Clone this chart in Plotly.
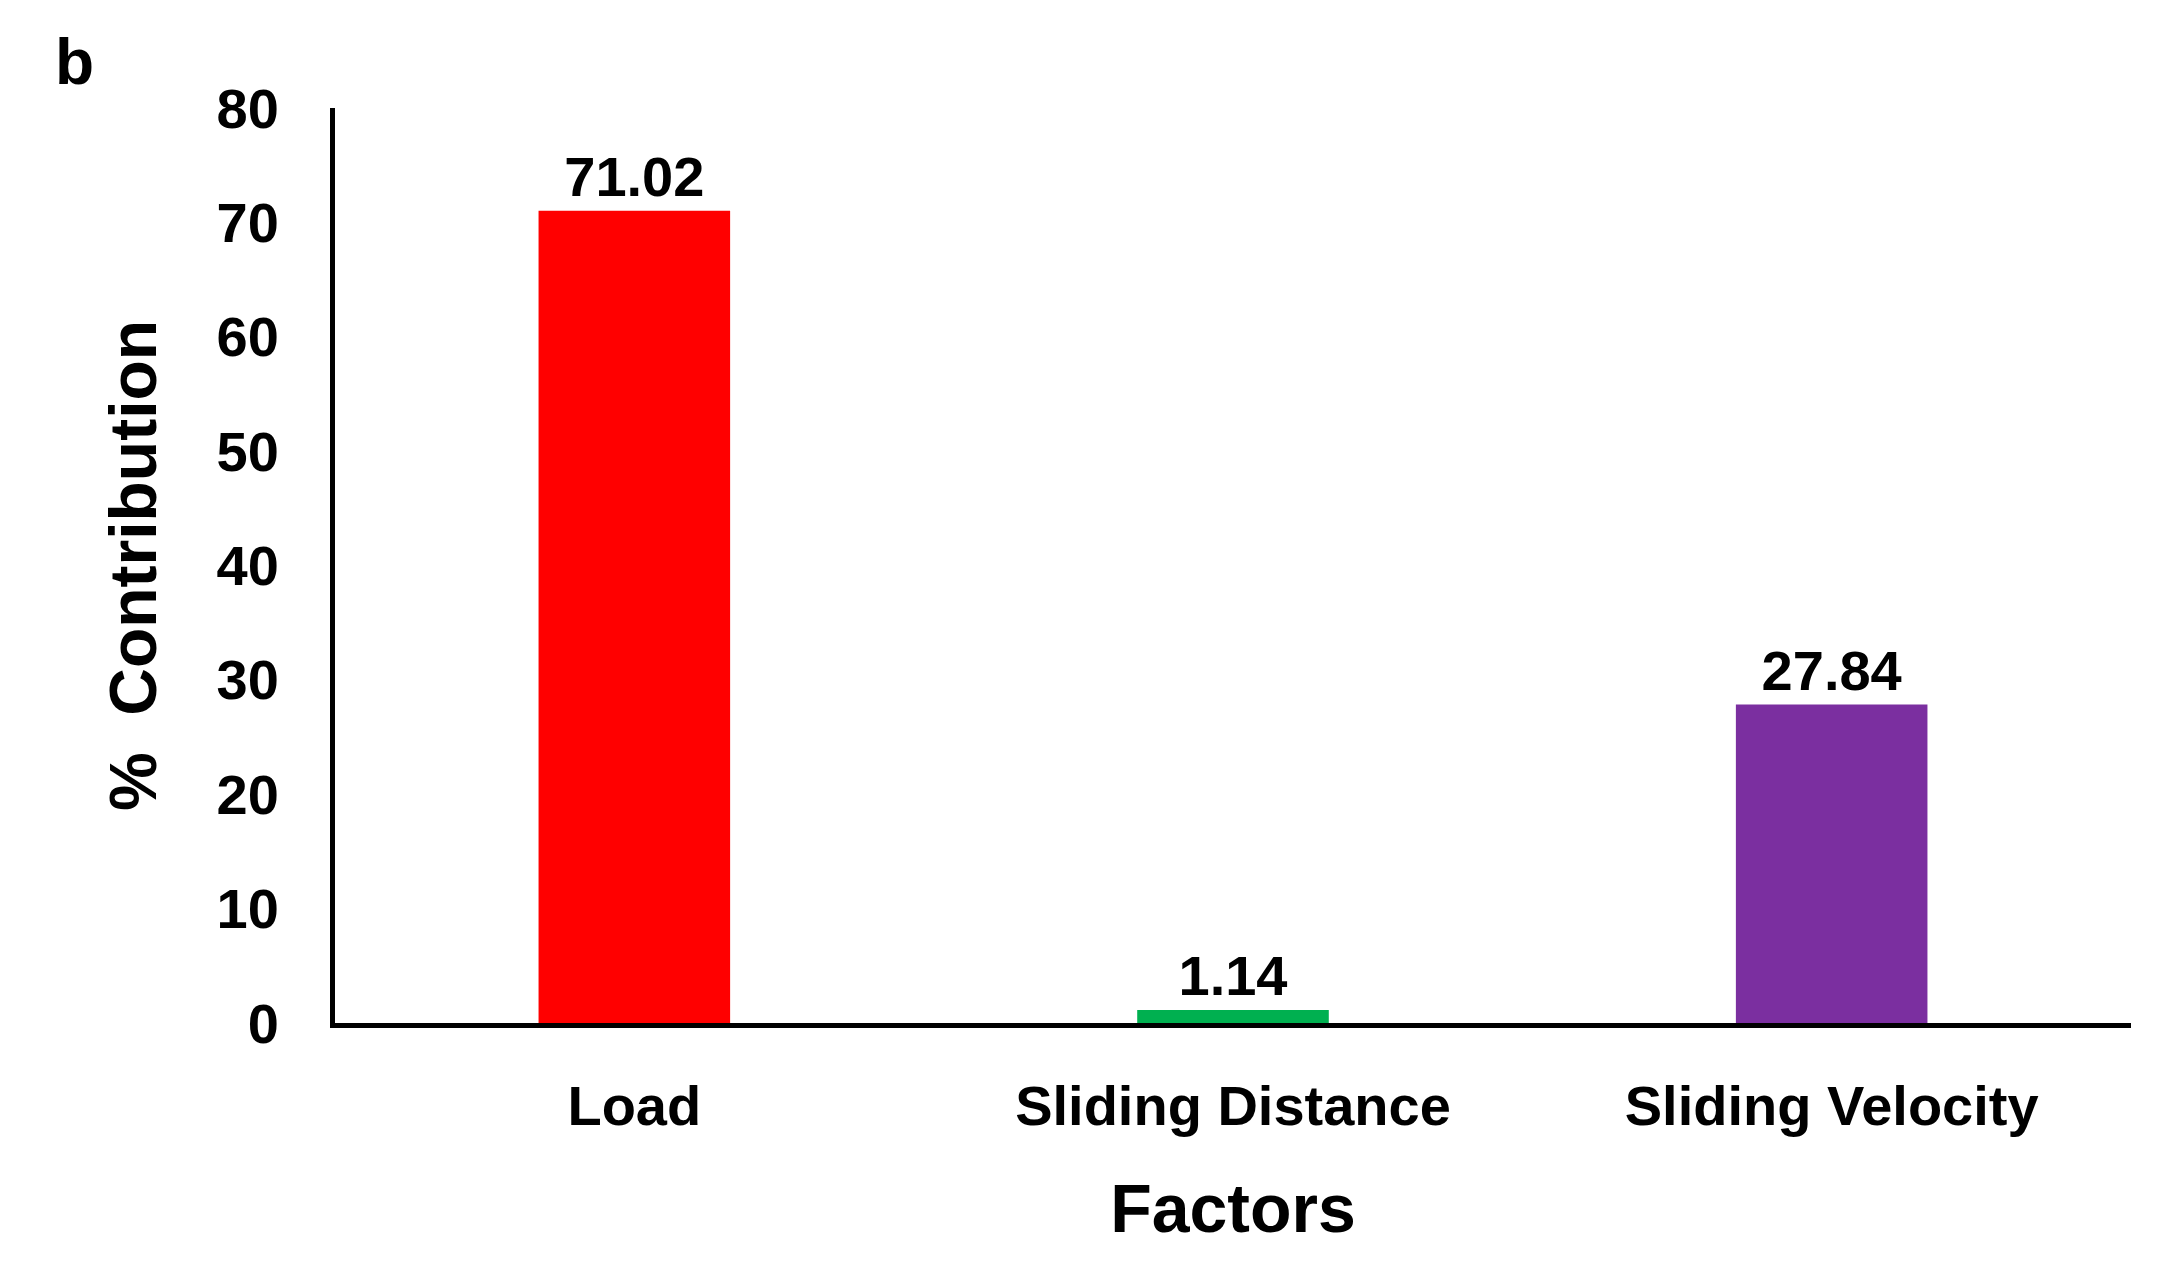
import plotly.graph_objects as go

factors = ["Load", "Sliding Distance", "Sliding Velocity"]
contribution = [71.02, 1.14, 27.84]
bar_colors = ["#FF0000", "#00B050", "#7B2FA0"]
y_ticks = [0, 10, 20, 30, 40, 50, 60, 70, 80]

font = "Liberation Sans, Arial, sans-serif"

fig = go.Figure()
fig.add_trace(go.Bar(
    x=factors, y=contribution,
    marker=dict(color=bar_colors, line=dict(width=0)),
    width=0.32,
    text=[f"{v:.2f}" for v in contribution],
    textposition="outside",
    textfont=dict(family=font, size=56, color="black", weight="bold"),
    cliponaxis=False,
))

fig.update_layout(
    width=2168, height=1280,
    margin=dict(l=327, r=45, t=100, b=265),
    plot_bgcolor="white", paper_bgcolor="white",
    showlegend=False,
    font=dict(family=font, color="black"),
)
fig.update_xaxes(
    showline=True, linecolor="black", linewidth=5,
    ticks="", ticklabelstandoff=30,
    tickfont=dict(size=56, weight="bold"),
    title=dict(text="<b>Factors</b>", font=dict(size=68), standoff=50),
)
fig.update_yaxes(
    range=[0, 80], tickvals=y_ticks,
    showline=True, linecolor="black", linewidth=5,
    showgrid=False, zeroline=False,
    ticks="", ticklabelstandoff=40,
    tickfont=dict(size=56, weight="bold"),
    title=dict(text="<b>%  Contribution</b>", font=dict(size=66), standoff=40),
)
fig.add_annotation(text="<b>b</b>", xref="paper", yref="paper",
                   x=-0.145, y=1.05, xanchor="center", yanchor="middle",
                   showarrow=False, font=dict(size=64))

fig.write_html("out.html")
